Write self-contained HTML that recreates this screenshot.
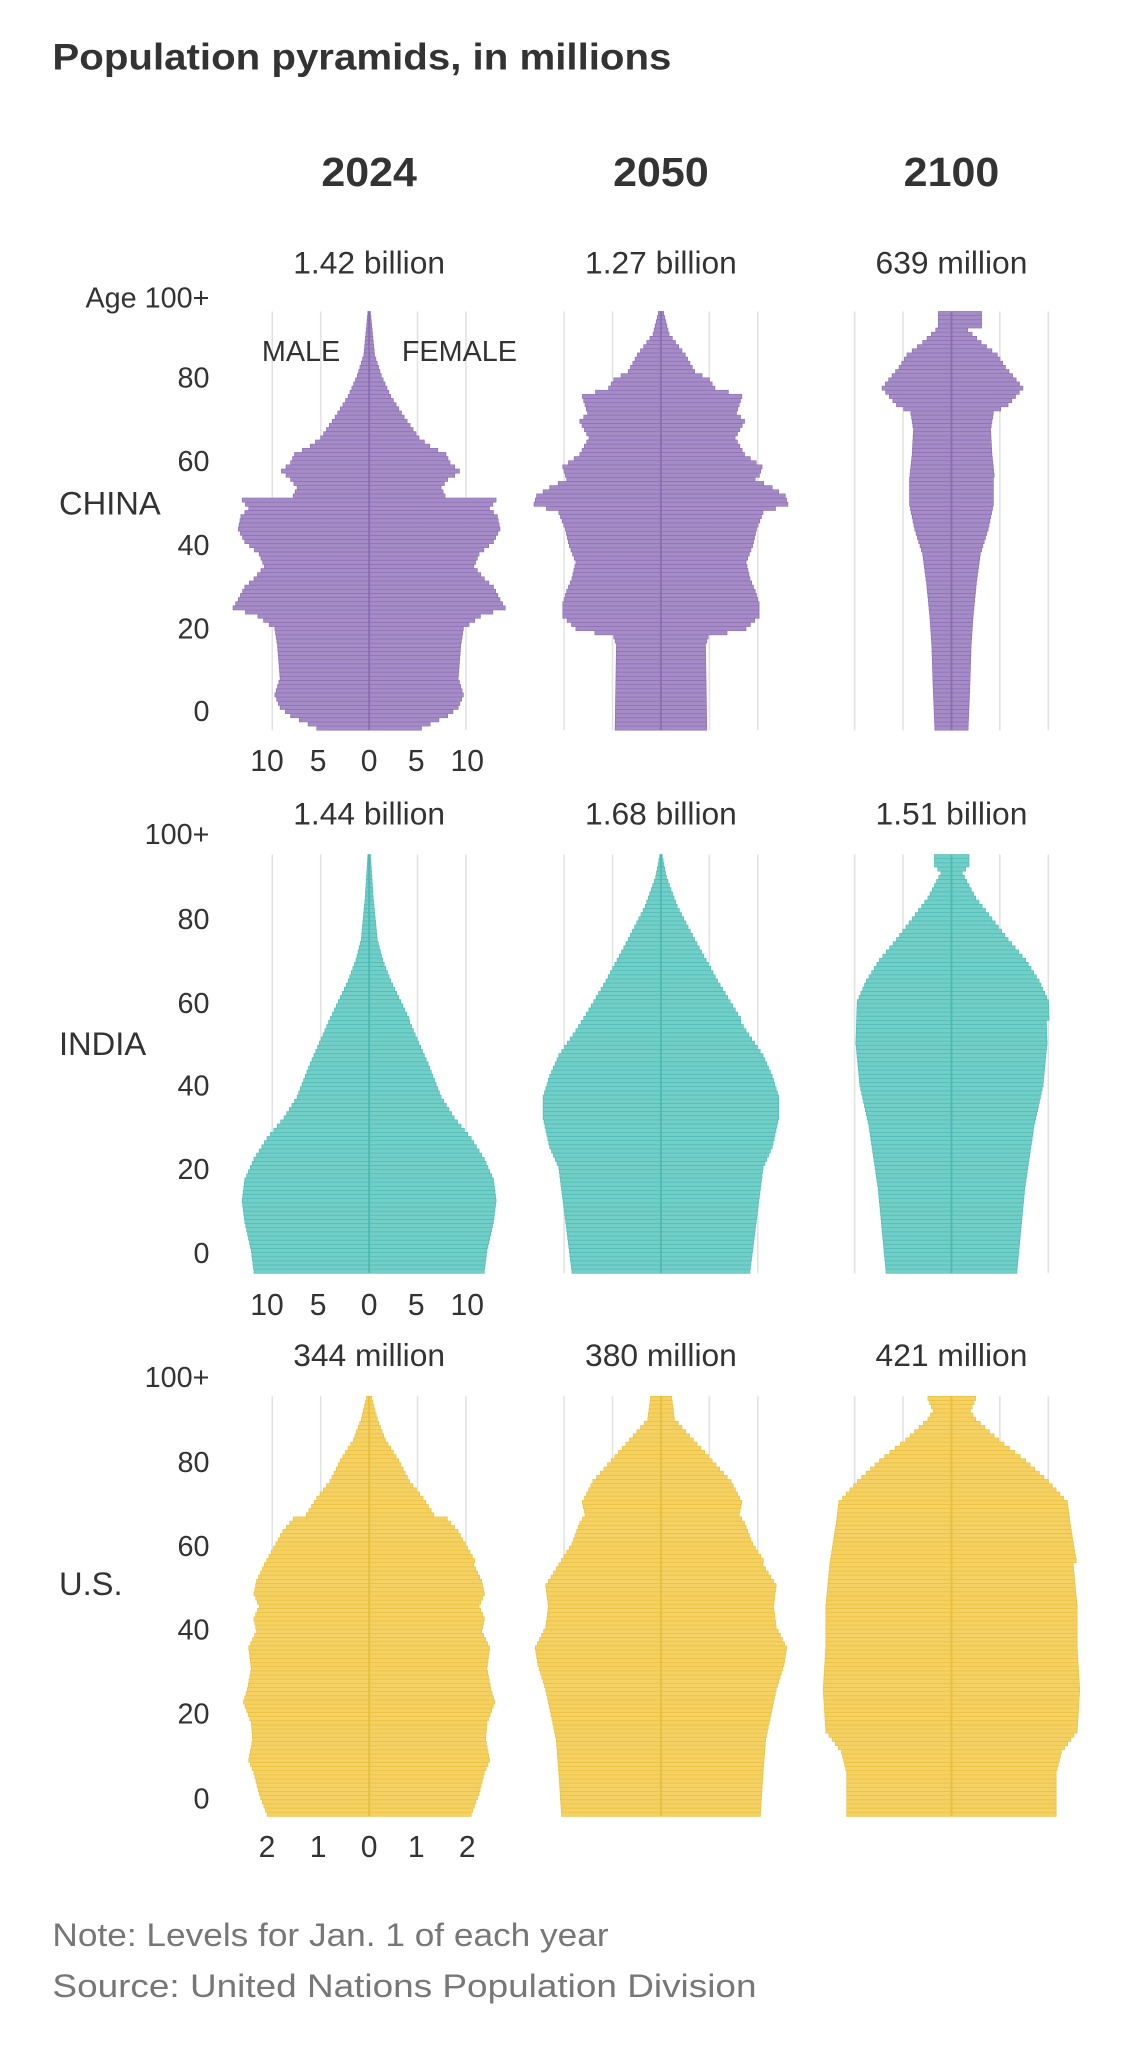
<!DOCTYPE html>
<html><head><meta charset="utf-8"><style>
html,body{margin:0;padding:0;background:#fff;}
svg{display:block;font-family:"Liberation Sans",sans-serif;}
</style></head><body>
<svg id="s" width="1140" height="2048" viewBox="0 0 871 1565" xmlns="http://www.w3.org/2000/svg">
<text x="40" y="53" font-size="28" font-weight="bold" fill="#333" textLength="473" lengthAdjust="spacingAndGlyphs">Population pyramids, in millions</text>
<g font-size="31" font-weight="bold" fill="#333" text-anchor="middle">
<text x="282" y="142" textLength="73" lengthAdjust="spacingAndGlyphs">2024</text><text x="505" y="142" textLength="73" lengthAdjust="spacingAndGlyphs">2050</text><text x="727" y="142" textLength="73" lengthAdjust="spacingAndGlyphs">2100</text></g>
<g id="g"></g>
<text x="40" y="1487" font-size="25" fill="#777" textLength="425" lengthAdjust="spacingAndGlyphs">Note: Levels for Jan. 1 of each year</text>
<text x="40" y="1526" font-size="25" fill="#777" textLength="538" lengthAdjust="spacingAndGlyphs">Source: United Nations Population Division</text>
</svg>
<script>
var g=document.getElementById('g'),NS="http://www.w3.org/2000/svg";
function el(t,a,txt){var e=document.createElementNS(NS,t);for(var k in a)e.setAttribute(k,a[k]);if(txt!==undefined)e.textContent=txt;g.appendChild(e);return e;}
function interp(p,a){for(var i=0;i<p.length-1;i++){if(a>=p[i][0]&&a<=p[i+1][0]){var t=(a-p[i][0])/(p[i+1][0]-p[i][0]);return p[i][1]+t*(p[i+1][1]-p[i][1]);}}return p[p.length-1][1];}
var cx=[282,505,727];
var rows=[
{name:"CHINA",ny:384,top:238,bot:558,tot:["1.42 billion","1.27 billion","639 million"],toty:209,fill:"#a58cc6",dark:"#8c6fb3",
labels:[["Age 100+",227],["80",288],["60",352],["40",416],["20",480],["0",543]],ticks:["10","5","0","5","10"],ticky:589,
prof:[
[[0,40],[3,60],[5,68],[8,72],[12,68],[20,70],[24,72],[27,85],[29,104],[31,100],[34,95],[36,88],[39,80],[42,84],[45,95],[48,100],[51,98],[53,92],[55,97],[56,58],[58,55],[60,60],[62,67],[64,60],[66,57],[68,45],[70,37],[75,26],[80,16],[85,9],[90,4],[100,1]],
[[0,35],[20,34],[22,36],[24,65],[27,75],[30,75],[33,72],[36,68],[40,65],[44,70],[48,73],[52,78],[54,97],[56,95],[58,85],[60,72],[63,75],[66,62],[70,55],[74,62],[76,56],[80,60],[82,40],[84,36],[86,25],[90,18],[95,6],[100,2]],
[[0,12.7],[10,14],[20,15],[27,16.5],[35,19],[42,22],[48,28],[54,32],[60,32],[66,30],[72,29],[76,31],[78,42],[82,53],[84,48],[87,40],[90,34],[93,22],[96,12],[97,10],[100,10]]]},
{name:"INDIA",ny:797,top:653,bot:973,tot:["1.44 billion","1.68 billion","1.51 billion"],toty:630,fill:"#72cfc8",dark:"#4fbab3",
labels:[["100+",637],["80",702],["60",766],["40",829],["20",893],["0",957]],ticks:["10","5","0","5","10"],ticky:1005,
prof:[
[[0,88],[5,90],[12,95],[17,97],[22,95],[27,88],[32,78],[37,65],[42,55],[50,45],[60,31],[70,16],[75,10],[80,6],[90,3],[100,1]],
[[0,68],[10,72],[20,76],[25,78],[30,85],[37,90],[42,90],[47,85],[52,78],[58,65],[62,57],[70,42],[80,25],[88,12],[95,4],[100,1]],
[[0,50],[20,56],[35,63],[45,70],[55,73],[65,72],[70,65],[75,55],[80,42],[85,30],[90,18],[96,8],[98,13],[100,13]]]},
{name:"U.S.",ny:1210,top:1067,bot:1388,tot:["344 million","380 million","421 million"],toty:1044,fill:"#f4d162",dark:"#e8c040",
labels:[["100+",1052],["80",1117],["60",1181],["40",1245],["20",1309],["0",1374]],ticks:["2","1","0","1","2"],ticky:1419,
prof:[
[[0,78],[5,84],[10,88],[13,92],[18,89],[22,90],[27,96],[30,93],[35,90],[40,92],[44,86],[47,88],[50,84],[53,88],[56,86],[60,80],[64,73],[68,66],[71,58],[72,48],[76,40],[80,30],[85,22],[90,12],[95,6],[100,2]],
[[0,76],[10,78],[18,80],[24,84],[30,88],[36,94],[40,96],[45,88],[50,86],[55,88],[60,78],[65,68],[70,62],[72,58],[75,60],[80,52],[85,38],[90,24],[95,10],[100,8]],
[[0,80],[10,80],[15,84],[20,96],[30,98],[40,96],[50,96],[60,93],[70,88],[75,86],[80,72],[85,55],[90,35],[95,18],[97,14],[100,18]]]}
];
rows.forEach(function(r,ri){
 el("text",{x:45,y:r.ny+9,"font-size":25,fill:"#333"},r.name);
 r.labels.forEach(function(l){el("text",{x:160,y:l[1]+8,"font-size":22,fill:"#333","text-anchor":"end"},l[0]);});
 var h=(r.bot-r.top)/101;
 cx.forEach(function(c,j){
  el("text",{x:c,y:r.toty,"font-size":24,fill:"#333","text-anchor":"middle",textLength:116,lengthAdjust:"spacingAndGlyphs"},r.tot[j]);
  [-74,-37,37,74].forEach(function(d){el("line",{x1:c+d,x2:c+d,y1:r.top,y2:r.bot,stroke:"#e2e2e2","stroke-width":1.2});});
  for(var a=0;a<=100;a++){
   var w=interp(r.prof[j],a),wf=w*(a>60?1.03:1.0);
   if(ri==0&&j==2&&a>=97) wf=23;
   var y=r.bot-(a+1)*h;
   el("rect",{x:c-w,y:y,width:w+wf,height:h,fill:r.fill,stroke:r.dark,"stroke-width":0.5});
  }
  el("line",{x1:c,x2:c,y1:r.top,y2:r.bot,stroke:r.dark,"stroke-width":1.5});
 });
 var tx=[204,243,282,318,357];
 r.ticks.forEach(function(t,i){el("text",{x:tx[i],y:r.ticky,"font-size":23,fill:"#333","text-anchor":"middle"},t);});
});
el("text",{x:230,y:276,"font-size":22,fill:"#333","text-anchor":"middle"},"MALE");
el("text",{x:351,y:276,"font-size":22,fill:"#333","text-anchor":"middle"},"FEMALE");
</script>
</body></html>
